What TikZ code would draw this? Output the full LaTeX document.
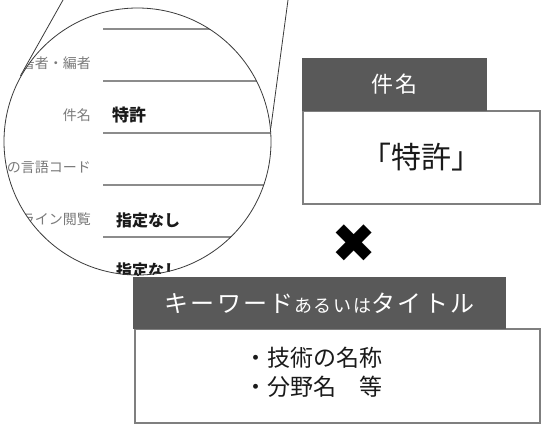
\documentclass[tikz,border=0pt]{standalone}
\usepackage{fontspec}
\setmainfont{Noto Sans CJK JP}
\newfontfamily\hdrfont[LetterSpace=10]{Noto Sans CJK JP}
\newfontfamily\symfont{DejaVu Sans}
\usetikzlibrary{calc}
\definecolor{hdrbg}{HTML}{595959}
\definecolor{frame}{HTML}{7F7F7F}
\definecolor{ink}{HTML}{1A1A1A}
\definecolor{muted}{HTML}{7A7A7A}
\definecolor{rule}{HTML}{8C8C8C}
\definecolor{lensline}{HTML}{3A3A3A}
\tikzset{
  lens/.style={draw=lensline, line width=0.8pt},
  form/.style={draw=rule, line width=1.1pt},
  lab/.style={text=muted, font=\fontsize{14}{14}\selectfont, anchor=east, inner sep=0pt},
  val/.style={text=ink, font=\fontsize{17}{17}\selectfont\bfseries, anchor=west, inner sep=0pt},
  hdr/.style={fill=hdrbg, text=white, inner sep=0pt},
  body/.style={draw=frame, line width=1.4pt, fill=white, inner sep=0pt, text=ink},
  cross/.style={text=black, font=\symfont\fontsize{54}{54}\selectfont, inner sep=0pt},
}

\begin{document}
\begin{tikzpicture}[x=1pt, y=-1pt]
  \useasboundingbox (0,0) rectangle (541,424);
  \coordinate (C) at (137.5,141.5);
  \coordinate (T1) at (63,0);
  \coordinate (T2) at (20.4,75.8);
  \coordinate (T3) at (288,0);
  \coordinate (T4) at (270.8,128);
  \draw[lens] (T1) -- (T2);
  \draw[lens] (T3) -- (T4);
  \begin{scope}
    \clip (C) circle[radius=133.5pt];
    \foreach \y in {29,81,133,185,237} \draw[form] (103,\y) -- (280,\y);
    \node[lab] (author) at (91,63) {著者・編者};
    \node[lab] (subj) at (91,115) {件名};
    \node[val] (subjv) at (112,115) {特許};
    \node[lab] (lang) at (91,167) {本文の言語コード};
    \node[lab] (online) at (91,219) {オンライン閲覧};
    \node[val, font=\fontsize{16}{16}\selectfont\bfseries] (onlinev) at (116,220) {指定なし};
    \node[val, font=\fontsize{16}{16}\selectfont\bfseries] (nextv) at (116,270) {指定なし};
  \end{scope}
  \draw[lens] (C) circle[radius=133.5pt];
  % 件名
  \node[body, minimum width=237pt, minimum height=93pt, font=\fontsize{30}{30}\selectfont] (subjbox) at (421.5,157.5) {「特許」};
  \node[hdr, minimum width=185pt, minimum height=53pt, font=\hdrfont\fontsize{22}{22}\selectfont] (subjhdr) at (394.5,84.5) {件名};
  \node[cross] (times) at (354,244) {✖};
  % キーワード
  \node[body, minimum width=405pt, minimum height=94pt] (kwbox) at (337.5,376) {};
  \node[hdr, minimum width=373pt, minimum height=52pt, font=\hdrfont\fontsize{24}{24}\selectfont] (kwhdr) at (319.5,303) {キーワード{\fontsize{18}{18}\selectfont あるいは}タイトル};
  \node[anchor=west, align=left, inner sep=0pt, text=ink, font=\fontsize{23}{29}\selectfont] (kwtxt) at (244,372.5) {・技術の名称\\・分野名　等};
\end{tikzpicture}
\end{document}
